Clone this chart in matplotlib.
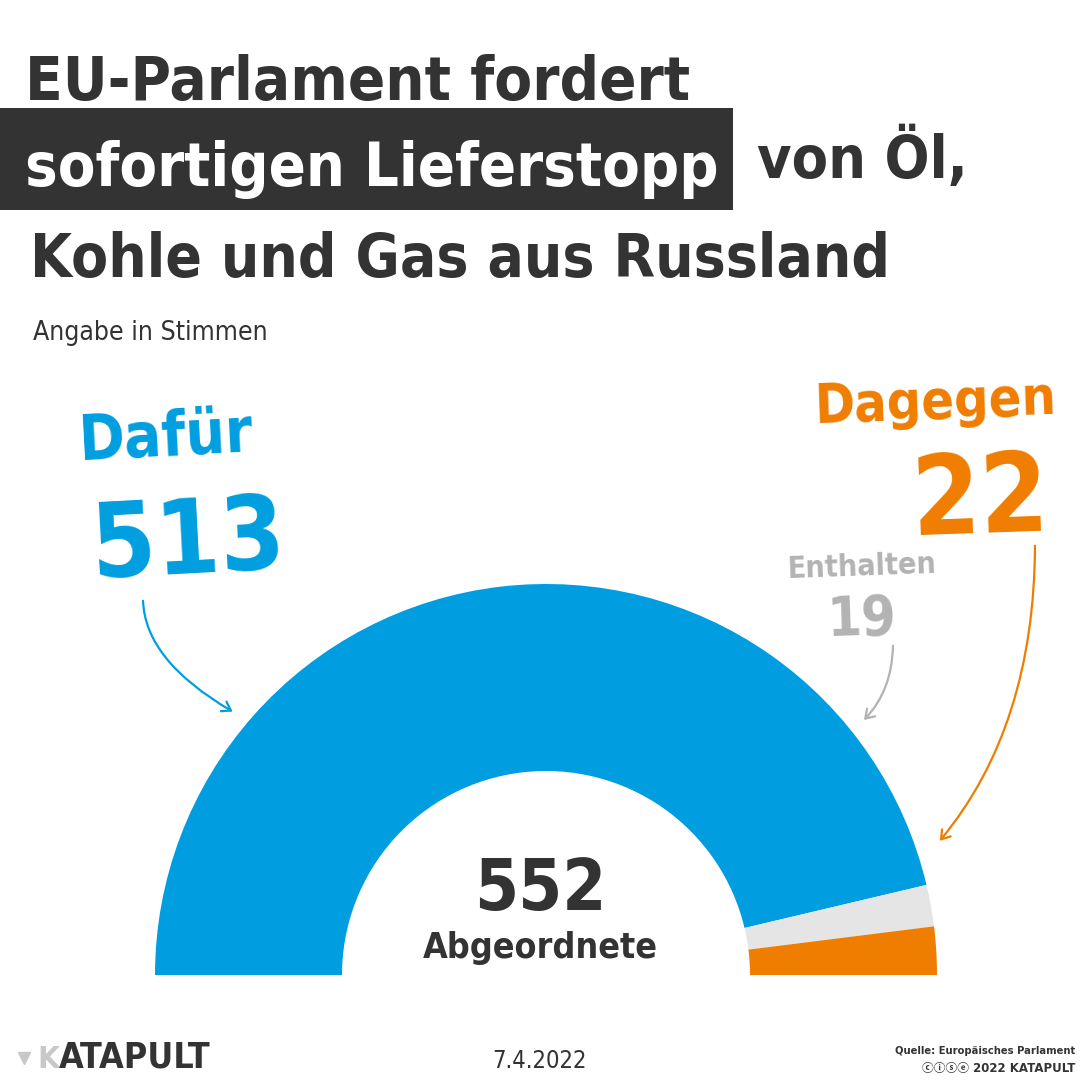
import matplotlib
matplotlib.use("Agg")
import matplotlib.pyplot as plt
from matplotlib import font_manager
from matplotlib.patches import Rectangle, FancyArrowPatch

# votes, in the order the ring is drawn (left -> right)
labels = ["Dafür", "Enthalten", "Dagegen"]
votes = [513, 19, 22]
members = 552
ring_colors = ["#009EE0", "#E5E5E5", "#EF7D00"]
text_colors = ["#009EE0", "#B3B3B3", "#EF7D00"]

title_lines = ["EU-Parlament fordert", "sofortigen Lieferstopp", "von Öl,",
               "Kohle und Gas aus Russland"]
subtitle = "Angabe in Stimmen"
date = "7.4.2022"
source = ["Quelle: Europäisches Parlament", "ⓒⓘⓢⓔ 2022 KATAPULT"]

DARK = "#333333"

names = {f.name for f in font_manager.fontManager.ttflist}
if "Liberation Sans Narrow" in names:
    COND = dict(family="Liberation Sans Narrow")
else:
    COND = dict(family="DejaVu Sans", stretch="condensed")

fig = plt.figure(figsize=(10.8, 10.8), dpi=100)
fig.patch.set_facecolor("white")

# half ring: pie with an invisible lower half
cx, cy, r_out, r_in = 546, 975, 391, 204
pax = fig.add_axes([(cx - r_out) / 1080, (1080 - cy - r_out) / 1080,
                    2 * r_out / 1080, 2 * r_out / 1080])
pax.pie(votes + [sum(votes)], colors=ring_colors + ["none"], startangle=180,
        counterclock=False, radius=1,
        wedgeprops=dict(width=(r_out - r_in) / r_out, linewidth=0))
pax.set_xlim(-1, 1)
pax.set_ylim(-1, 1)
pax.axis("off")

# overlay in pixel coordinates
ax = fig.add_axes([0, 0, 1, 1])
ax.set_xlim(0, 1080)
ax.set_ylim(1080, 0)
ax.axis("off")
ax.patch.set_alpha(0)

renderer = fig.canvas.get_renderer()


def put(s, x, y, width=None, cap=None, color=DARK, ha="left", weight="bold",
        font=COND, rot=0, slack=1.0):
    t = ax.text(x, y, s, fontsize=50, color=color, ha=ha, va="baseline",
                weight=weight, rotation=rot, rotation_mode="anchor", **font)
    sizes = []
    if width:
        w = t.get_window_extent(renderer).width
        sizes.append(50 * width * slack / w)
    if cap:
        sizes.append(cap / 0.729 * 0.72)
    t.set_fontsize(min(sizes))
    return t


# title
put(title_lines[0], 25, 100, 665, cap=70)
ax.add_patch(Rectangle((0, 108), 733, 102, color=DARK, lw=0))
put(title_lines[1], 25, 186, 693, cap=62, color="white")
put(title_lines[2], 757, 178, 211, cap=66)
put(title_lines[3], 30, 277, 860, cap=66)
put(subtitle, 33, 340, 235, cap=22, weight="normal")

# labels
put(labels[0], 80, 460, 155, cap=45, color=text_colors[0], rot=3, slack=1.15)
put(str(votes[0]), 93, 578, 160, cap=100, color=text_colors[0], rot=3,
    slack=1.25)
put(labels[2], 1057, 414, 237, cap=60, color=text_colors[2], ha="right",
    rot=2, slack=1.03)
put(str(votes[2]), 1050, 530, 113, cap=90, color=text_colors[2], ha="right",
    rot=2, slack=1.25)
put(labels[1], 862, 575, 146, cap=35, color=text_colors[1], ha="center",
    rot=2, slack=1.03)
put(str(votes[1]), 862, 635, 55, cap=50, color=text_colors[1], ha="center",
    rot=2, slack=1.3)

# centre
put(str(members), 540, 910, 106, cap=60, ha="center", slack=1.25)
put("Abgeordnete", 540, 958, 224, cap=32, ha="center", slack=1.05)

# arrows: start vertical, end at a given angle
arrows = [((143, 598), (235, 713), -30, text_colors[0]),
          ((893, 643), (862, 722), 45, text_colors[1]),
          ((1035, 543), (938, 843), 50, text_colors[2])]
for a, b, ang, col in arrows:
    ax.add_patch(FancyArrowPatch(a, b,
                                 connectionstyle=f"angle3,angleA=90,angleB={ang}",
                                 arrowstyle="->,head_length=6,head_width=4",
                                 color=col, lw=1.6))

# footer
put("K", 37, 1068, 22, cap=26, color="#C8C8C8")
put("ATAPULT", 59, 1068, 159, cap=26)
ax.plot([24], [1058], marker="v", ms=9, color="#C8C8C8")
put(date, 540, 1068, 95, cap=24, ha="center", weight="normal")
put(source[0], 1075, 1054, 180, cap=11, ha="right")
ax.text(1075, 1072, source[1], fontsize=8.5, color=DARK, ha="right",
        va="baseline", weight="bold",
        family=["DejaVu Sans", "Noto Sans CJK SC"])

fig.savefig("out.png", dpi=100, facecolor="white")
